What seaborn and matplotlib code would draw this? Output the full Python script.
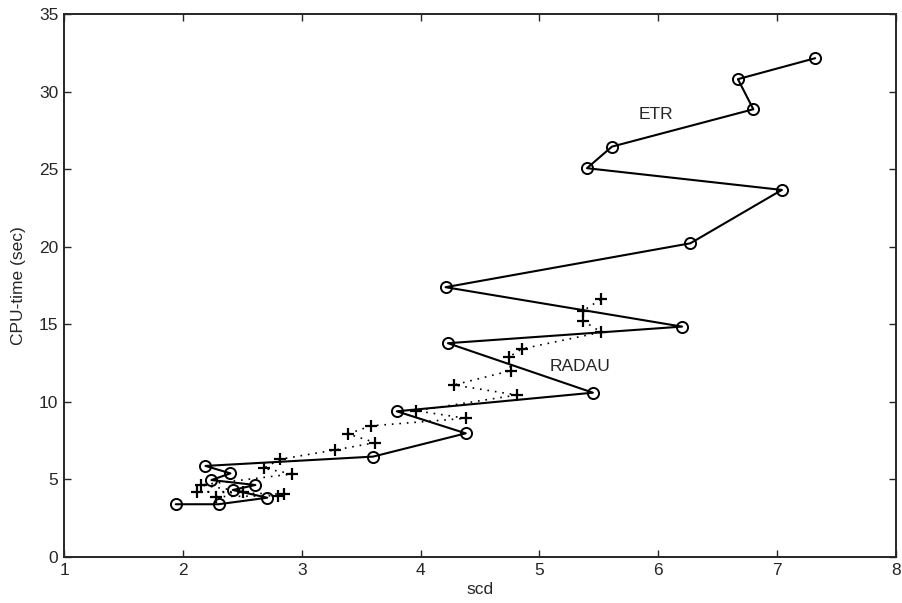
import numpy as np
import pandas as pd
import matplotlib
matplotlib.use("Agg")
import matplotlib.pyplot as plt
import seaborn as sns

# ETR run: scd vs CPU-time, points joined in order of CPU-time
etr_scd = [1.94, 2.30, 2.71, 2.42, 2.61, 2.24, 2.40, 2.19, 3.60, 4.38, 3.80,
           5.45, 4.23, 6.20, 4.21, 6.27, 7.04, 5.40, 5.61, 6.80, 6.67, 7.32]
etr_cpu = [3.40, 3.40, 3.82, 4.32, 4.64, 4.96, 5.39, 5.87, 6.47, 7.97, 9.39,
           10.59, 13.78, 14.85, 17.39, 20.22, 23.66, 25.06, 26.45, 28.86, 30.80, 32.15]

# RADAU run
radau_scd = [2.28, 2.80, 2.85, 2.12, 2.51, 2.15, 2.92, 2.68, 2.82, 3.28, 3.62, 3.39,
             3.58, 4.38, 3.96, 4.81, 4.28, 4.76, 4.74, 4.85, 5.52, 5.37, 5.37, 5.52]
radau_cpu = [3.89, 3.95, 4.05, 4.21, 4.21, 4.64, 5.35, 5.72, 6.30, 6.90, 7.37, 7.93,
             8.45, 8.94, 9.43, 10.44, 11.09, 12.01, 12.87, 13.41, 14.49, 15.22, 15.88, 16.63]

etr_df = pd.DataFrame({"scd": etr_scd, "cpu": etr_cpu})
radau_df = pd.DataFrame({"scd": radau_scd, "cpu": radau_cpu})

sns.set_style("ticks")
plt.rcParams["font.family"] = ["Liberation Sans", "DejaVu Sans"]

fig = plt.figure(figsize=(9.02, 6.03), dpi=100)
ax = fig.add_axes([0.071, 0.0763, 0.9223, 0.9005])

# estimator=None so repeated scd values are not averaged
sns.lineplot(data=radau_df, x="scd", y="cpu", sort=False, estimator=None, ax=ax,
             color="black", linewidth=1.2, linestyle=(0, (1, 3.5)), marker="+",
             markersize=9, markeredgewidth=1.6, markeredgecolor="black")
sns.lineplot(data=etr_df, x="scd", y="cpu", sort=False, estimator=None, ax=ax,
             color="black", linewidth=1.5, marker="o", markersize=8,
             markerfacecolor="none", markeredgecolor="black", markeredgewidth=1.4)

ax.text(5.98, 28.5, "ETR", ha="center", va="center", fontsize=12.5)
ax.text(5.09, 12.25, "RADAU", ha="left", va="center", fontsize=12.5)

ax.set_xlim(1, 8)
ax.set_ylim(0, 35)
ax.set_xticks(range(1, 9))
ax.set_yticks(range(0, 36, 5))
ax.tick_params(direction="in", length=5, width=1, top=True, right=True,
               labelsize=12.5, pad=4)
for s in ax.spines.values():
    s.set_linewidth(1.4)
    s.set_visible(True)
ax.set_xlabel("scd", fontsize=12.5, labelpad=3)
ax.set_ylabel("CPU-time (sec)", fontsize=12.5, labelpad=9)

fig.savefig("out.png", dpi=100)
